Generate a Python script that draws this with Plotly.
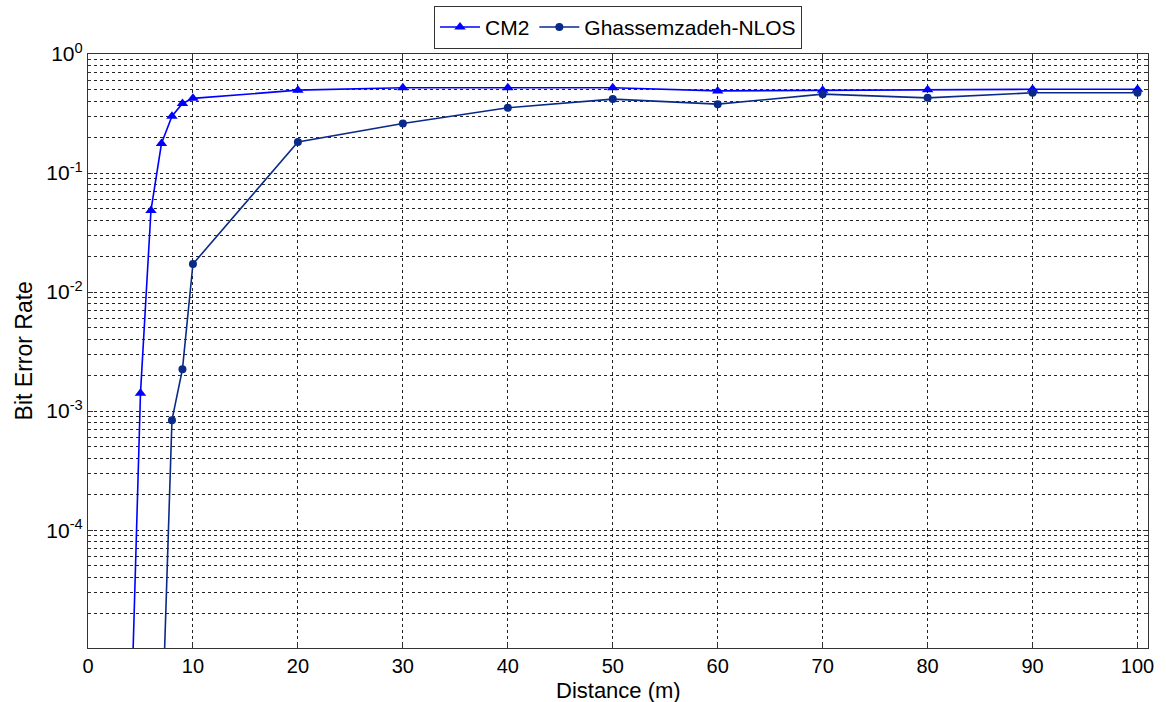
import plotly.graph_objects as go

# Distance (m) and bit error rate for each channel model
cm2_distance = [4, 5, 6, 7, 8, 9, 10, 20, 30, 40, 50, 60, 70, 80, 90, 100]
cm2_ber = [1.2e-6, 1.41e-3, 0.0485, 0.177, 0.30, 0.384, 0.424, 0.497, 0.52, 0.52,
           0.52, 0.49, 0.497, 0.50, 0.505, 0.505]

nlos_distance = [7, 8, 9, 10, 20, 30, 40, 50, 60, 70, 80, 90, 100]
nlos_ber = [1.5e-6, 8.4e-4, 2.25e-3, 0.0172, 0.182, 0.261, 0.353, 0.418, 0.379,
            0.46, 0.428, 0.472, 0.472]

x_ticks = [0, 10, 20, 30, 40, 50, 60, 70, 80, 90, 100]
y_ticks = [1e-4, 1e-3, 1e-2, 1e-1, 1e0]
y_tick_text = ["10<sup>-4</sup>", "10<sup>-3</sup>", "10<sup>-2</sup>",
               "10<sup>-1</sup>", "10<sup>0</sup>"]

FONT = "Liberation Sans, Arial, sans-serif"
GRID_DASH = "3px,3px"

fig = go.Figure()
fig.add_trace(go.Scatter(
    x=cm2_distance, y=cm2_ber, name="CM2", mode="lines+markers",
    line=dict(color="#0000FF", width=1.6),
    marker=dict(symbol="triangle-up", size=10, color="#0000FF"),
))
fig.add_trace(go.Scatter(
    x=nlos_distance, y=nlos_ber, name="Ghassemzadeh-NLOS", mode="lines+markers",
    line=dict(color="#0A2A8A", width=1.6),
    marker=dict(symbol="circle", size=8, color="#0A2A8A"),
))

fig.update_layout(
    width=1166, height=702,
    margin=dict(l=88, r=18, t=54, b=54, autoexpand=False),
    paper_bgcolor="white", plot_bgcolor="white",
    font=dict(family=FONT, size=21, color="black"),
    showlegend=True,
    legend=dict(
        orientation="h", x=0.5, xanchor="center", y=1.081, yanchor="top",
        bordercolor="#333333", borderwidth=1, bgcolor="white",
        font=dict(family=FONT, size=21, color="black"),
        itemwidth=40, tracegroupgap=0,
    ),
    annotations=[
        dict(text="Distance (m)", xref="paper", yref="paper", x=0.5, y=-0.071,
             xanchor="center", yanchor="middle", showarrow=False,
             font=dict(family=FONT, size=22)),
        dict(text="Bit Error Rate", xref="paper", yref="paper", x=-0.06, y=0.5,
             xanchor="center", yanchor="middle", showarrow=False, textangle=-90,
             font=dict(family=FONT, size=23)),
    ],
)

fig.update_xaxes(
    range=[0, 101], tickvals=x_ticks, ticks="inside", ticklen=5,
    tickcolor="#333333", showline=True, linecolor="#333333", linewidth=1.2,
    mirror="ticks", showgrid=True, gridcolor="#222222", gridwidth=1,
    griddash=GRID_DASH, zeroline=False, automargin=False,
    tickfont=dict(family=FONT, size=20),
)
fig.update_yaxes(
    type="log", range=[-4.99, 0], tickvals=y_ticks, ticktext=y_tick_text,
    ticks="inside", ticklen=5, tickcolor="#333333", showline=True,
    linecolor="#333333", linewidth=1.2, mirror="ticks",
    showgrid=True, gridcolor="#222222", gridwidth=1, griddash=GRID_DASH,
    minor=dict(dtick="D1", ticks="inside", ticklen=3, tickcolor="#333333",
               showgrid=True, gridcolor="#222222", gridwidth=1,
               griddash=GRID_DASH),
    zeroline=False, automargin=False,
    tickfont=dict(family=FONT, size=21),
)

fig.write_html("out.html")
